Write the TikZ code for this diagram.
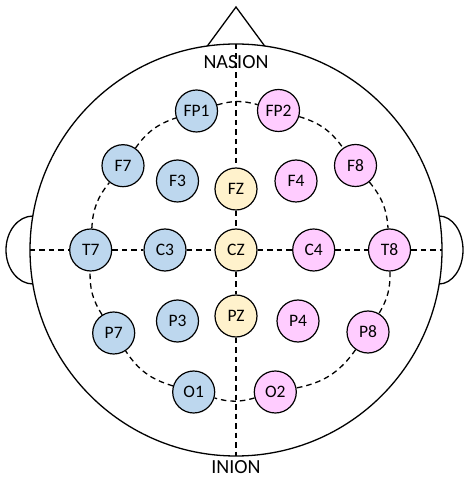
\documentclass[tikz,border=0pt]{standalone}
\usepackage{fontspec}
\setmainfont{Carlito}
\definecolor{leftblue}{HTML}{BDD7EE}
\definecolor{rightpink}{HTML}{FFCCFF}
\definecolor{midyellow}{HTML}{FFF2CC}

\begin{document}
\begin{tikzpicture}[
  x=1pt, y=1pt,
  site/.style={
    draw,
    circle,
    line width=1.2pt,
    minimum size=42pt,
    inner sep=0pt,
    font=\fontsize{17.5}{20}\selectfont
  },
  lsite/.style={site, fill=leftblue},
  rsite/.style={site, fill=rightpink},
  zsite/.style={site, fill=midyellow},
  guide/.style={dash pattern=on 5.5pt off 4pt, line width=1.3pt},
  outline/.style={line width=1.3pt},
  landmark/.style={font=\fontsize{20}{24}\selectfont, inner sep=0pt}
]
\useasboundingbox (-236,-228) rectangle (228,250);
% head, nose, ears
\draw[outline] (0,0) circle[radius=206pt];
\draw[outline] (98:206pt) -- (0,243) -- (82:206pt);
\draw[outline] (-203,34) arc[start angle=90, end angle=270, x radius=27pt, y radius=34pt];
\draw[outline] (203,34) arc[start angle=90, end angle=-90, x radius=24pt, y radius=34pt];
\coordinate (vtop) at (0,206);
\coordinate (vbot) at (0,-206);
\coordinate (hleft) at (-206,0);
\coordinate (hright) at (206,0);
\node[landmark] (nasion) at (0,188) {NASION};
\node[landmark] (inion) at (0,-217) {INION};
% left hemisphere
\node[lsite] (FP1) at (-39.5,139) {FP1};
\node[lsite] (F7) at (-113,84.3) {F7};
\node[lsite] (F3) at (-58.5,69) {F3};
\node[lsite] (T7) at (-145.3,0) {T7};
\node[lsite] (C3) at (-71,0) {C3};
\node[lsite] (P7) at (-122.3,-83) {P7};
\node[lsite] (P3) at (-58.5,-71) {P3};
\node[lsite] (O1) at (-42.3,-142) {O1};
% midline
\node[zsite] (FZ) at (0,61) {FZ};
\node[zsite] (CZ) at (0,0) {CZ};
\node[zsite] (PZ) at (0,-66) {PZ};
% right hemisphere
\node[rsite] (FP2) at (42.5,139.5) {FP2};
\node[rsite] (F8) at (119.5,84.5) {F8};
\node[rsite] (F4) at (60,69) {F4};
\node[rsite] (T8) at (153.5,0) {T8};
\node[rsite] (C4) at (77.7,0) {C4};
\node[rsite] (P8) at (132,-82) {P8};
\node[rsite] (P4) at (62,-71) {P4};
\node[rsite] (O2) at (39.3,-142) {O2};
% guide lines
\draw[guide] (vtop) -- (FZ) -- (CZ) -- (PZ) -- (vbot);
\draw[guide] (hleft) -- (T7) -- (C3) -- (CZ) -- (C4) -- (T8) -- (hright);
\foreach \a/\b/\t in {FP1/FP2/16, FP2/F8/19, F8/T8/18, T8/P8/16, P8/O2/22,
                      O2/O1/16, O1/P7/20, P7/T7/17, T7/F7/18, F7/FP1/18}
  \draw[guide] (\a) to[bend left=\t] (\b);
\end{tikzpicture}
\end{document}
